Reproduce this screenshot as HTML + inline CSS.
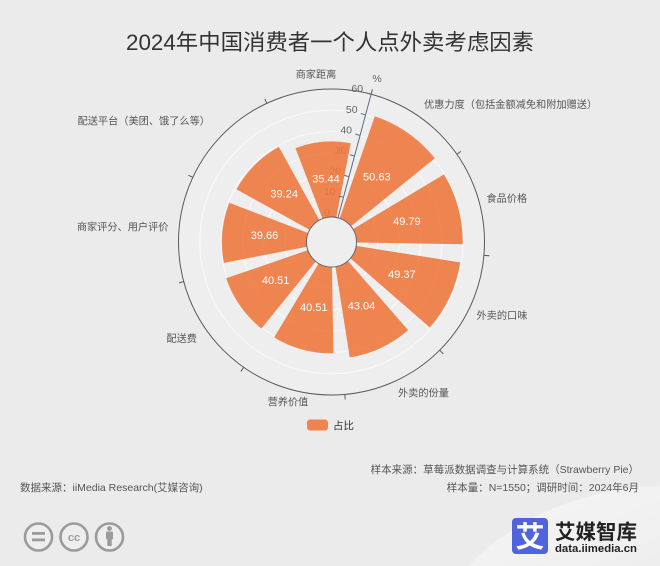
<!DOCTYPE html>
<html>
<head>
<meta charset="utf-8">
<style>
  html, body { margin: 0; padding: 0; background: #ebebeb; }
  body { width: 660px; height: 566px; overflow: hidden; }
  svg { display: block; font-family: "Liberation Sans", "Noto Sans CJK SC", sans-serif; }
</style>
</head>
<body>
<svg width="660" height="566" viewBox="0 0 660 566" xmlns="http://www.w3.org/2000/svg">
  <defs>
    <linearGradient id="lg" x1="0" y1="0" x2="1" y2="1">
      <stop offset="0" stop-color="#f6f6f6"/>
      <stop offset="1" stop-color="#eeeeee"/>
    </linearGradient>
  </defs>
  <rect x="0" y="0" width="660" height="566" fill="#ebebeb"/>
  <path d="M468 566 Q 540 492 660 486 L 660 566 Z" fill="url(#lg)"/>

  <!-- Title -->
  <text x="330" y="50" text-anchor="middle" font-size="22" fill="#333" textLength="408" lengthAdjust="spacingAndGlyphs">2024年中国消费者一个人点外卖考虑因素</text>

  <!-- polar background -->
  <circle cx="331.5" cy="242" r="153" fill="#eeeeee"/>

  <!-- split circles -->
  <g fill="none" stroke="#f8f8f8" stroke-width="1.2">
    <circle cx="331.5" cy="242" r="46.33"/>
    <circle cx="331.5" cy="242" r="67.67"/>
    <circle cx="331.5" cy="242" r="89"/>
    <circle cx="331.5" cy="242" r="110.33"/>
    <circle cx="331.5" cy="242" r="131.67"/>
  </g>

  <!-- radial tick labels -->
  <g font-size="10.5" fill="#666" text-anchor="end" dominant-baseline="central">
    <text x="363.1" y="89.2">60</text>
    <text x="357.6" y="109.8">50</text>
    <text x="352.0" y="130.4">40</text>
    <text x="346.5" y="151.0">30</text>
    <text x="341.0" y="171.6">20</text>
    <text x="335.5" y="192.2">10</text>
    <text x="330.0" y="212.9">0</text>
  </g>

  <!-- bars -->
  <g fill="rgb(238,118,59)" fill-opacity="0.88">
    <path d="M339.64,218.36 L374.80,116.24 A133.01,133.01 0 0 1 434.87,158.29 L350.93,226.27 A25,25 0 0 0 339.64,218.36 Z"/>
    <path d="M352.93,229.12 L443.98,174.42 A131.22,131.22 0 0 1 462.70,244.29 L356.50,242.44 A25,25 0 0 0 352.93,229.12 Z"/>
    <path d="M356.19,245.91 L460.21,262.39 A130.32,130.32 0 0 1 429.85,327.50 L350.37,258.40 A25,25 0 0 0 356.19,245.91 Z"/>
    <path d="M347.90,260.87 L408.14,330.17 A116.82,116.82 0 0 1 349.77,357.38 L335.41,266.69 A25,25 0 0 0 347.90,260.87 Z"/>
    <path d="M331.94,267.00 L333.44,353.40 A111.42,111.42 0 0 1 274.11,337.51 L318.62,263.43 A25,25 0 0 0 331.94,267.00 Z"/>
    <path d="M315.77,261.43 L261.38,328.59 A111.42,111.42 0 0 1 226.15,278.28 L307.86,250.14 A25,25 0 0 0 315.77,261.43 Z"/>
    <path d="M306.96,246.77 L223.90,262.91 A109.61,109.61 0 0 1 229.17,202.72 L308.16,233.04 A25,25 0 0 0 306.96,246.77 Z"/>
    <path d="M309.63,229.88 L236.42,189.30 A108.71,108.71 0 0 1 278.80,146.92 L319.38,220.13 A25,25 0 0 0 309.63,229.88 Z"/>
    <path d="M322.54,218.66 L295.44,148.07 A100.61,100.61 0 0 1 350.70,143.24 L336.27,217.46 A25,25 0 0 0 322.54,218.66 Z"/>
  </g>

  <!-- inner & outer circles -->
  <circle cx="331.5" cy="242" r="25" fill="#eeeeee" stroke="#666" stroke-width="1"/>
  <circle cx="331.5" cy="242" r="153" fill="none" stroke="#5a5a5a" stroke-width="1"/>

  <!-- outer ticks -->
  <g stroke="#5a5a5a" stroke-width="1">
    <line x1="371.10" y1="94.21" x2="372.39" y2="89.38"/>
    <line x1="456.84" y1="154.24" x2="460.93" y2="151.37"/>
    <line x1="483.92" y1="255.34" x2="489.40" y2="255.78"/>
    <line x1="439.69" y1="350.19" x2="443.22" y2="353.72"/>
    <line x1="344.84" y1="394.42" x2="345.28" y2="399.40"/>
    <line x1="243.74" y1="367.34" x2="240.87" y2="371.43"/>
    <line x1="183.71" y1="281.60" x2="178.89" y2="282.89"/>
    <line x1="192.84" y1="177.34" x2="188.30" y2="175.23"/>
    <line x1="266.84" y1="103.34" x2="264.73" y2="98.80"/>
  </g>

  <!-- radial axis -->
  <g stroke="#5e6a86" stroke-width="1">
    <line x1="337.97" y1="217.85" x2="371.10" y2="94.21"/>
    <line x1="371.10" y1="94.21" x2="366.27" y2="92.92"/>
    <line x1="365.57" y1="114.82" x2="360.74" y2="113.53"/>
    <line x1="360.05" y1="135.43" x2="355.22" y2="134.14"/>
    <line x1="354.53" y1="156.03" x2="349.70" y2="154.74"/>
    <line x1="349.01" y1="176.64" x2="344.18" y2="175.35"/>
    <line x1="343.49" y1="197.25" x2="338.66" y2="195.96"/>
    <line x1="337.97" y1="217.85" x2="333.14" y2="216.56"/>
  </g>
  <text x="377" y="79" text-anchor="middle" dominant-baseline="central" font-size="10.5" fill="#666">%</text>

  <!-- value labels -->
  <g font-size="11" fill="#ffffff" text-anchor="middle" dominant-baseline="central">
    <text x="376.8" y="177.3">50.63</text>
    <text x="406.9" y="221.8">49.79</text>
    <text x="401.9" y="274.8">49.37</text>
    <text x="361.5" y="306.3">43.04</text>
    <text x="313.8" y="307.9">40.51</text>
    <text x="275.6" y="281.1">40.51</text>
    <text x="264.5" y="236.1">39.66</text>
    <text x="284.2" y="194.7">39.24</text>
    <text x="326.0" y="179.4">35.44</text>
  </g>

  <!-- angle axis labels -->
  <g font-size="10.2" fill="#555">
    <text x="316" y="78" text-anchor="middle">商家距离</text>
    <text x="424" y="108" text-anchor="start">优惠力度（包括金额减免和附加赠送）</text>
    <text x="486.5" y="202" text-anchor="start">食品价格</text>
    <text x="476.5" y="319" text-anchor="start">外卖的口味</text>
    <text x="398" y="396.5" text-anchor="start">外卖的份量</text>
    <text x="288" y="405.5" text-anchor="middle">营养价值</text>
    <text x="197" y="342" text-anchor="end">配送费</text>
    <text x="168.5" y="230.5" text-anchor="end">商家评分、用户评价</text>
    <text x="210" y="124.5" text-anchor="end">配送平台（美团、饿了么等）</text>
  </g>

  <!-- legend -->
  <rect x="307" y="419.5" width="21" height="11" rx="3" ry="3" fill="#ee8450"/>
  <text x="333" y="429" font-size="10.5" fill="#333">占比</text>

  <!-- footer text -->
  <g font-size="10.5" fill="#555">
    <text x="20" y="491">数据来源：iiMedia Research(艾媒咨询)</text>
    <text x="639" y="473" text-anchor="end">样本来源：草莓派数据调查与计算系统（Strawberry Pie）</text>
    <text x="639" y="491" text-anchor="end">样本量：N=1550；调研时间：2024年6月</text>
  </g>

  <!-- CC icons -->
  <g fill="#eeeeee" stroke="#9b9b9b" stroke-width="2.6">
    <circle cx="38.5" cy="537" r="13.5"/>
    <circle cx="74" cy="537" r="13.5"/>
    <circle cx="109.5" cy="537" r="13.5"/>
  </g>
  <g fill="#9b9b9b">
    <rect x="32" y="532" width="13" height="2.8"/>
    <rect x="32" y="538.5" width="13" height="2.8"/>
    <text x="74" y="541" text-anchor="middle" font-size="11" font-weight="bold">cc</text>
    <circle cx="109.5" cy="528.5" r="2.4"/>
    <rect x="106" y="531.5" width="7" height="8" rx="1"/>
    <rect x="107.3" y="539" width="4.4" height="7"/>
  </g>

  <!-- right logo -->
  <rect x="512" y="518" width="36" height="36" rx="4" ry="4" fill="#5062dc"/>
  <text x="530" y="547" text-anchor="middle" font-size="29" font-weight="bold" fill="#ffffff" font-family="Noto Sans CJK SC, sans-serif">艾</text>
  <text x="555" y="539" font-size="20.5" font-weight="bold" fill="#222" textLength="82" lengthAdjust="spacingAndGlyphs">艾媒智库</text>
  <text x="555" y="552" font-size="11.3" font-weight="bold" fill="#222" textLength="82" lengthAdjust="spacingAndGlyphs">data.iimedia.cn</text>
</svg>
</body>
</html>
